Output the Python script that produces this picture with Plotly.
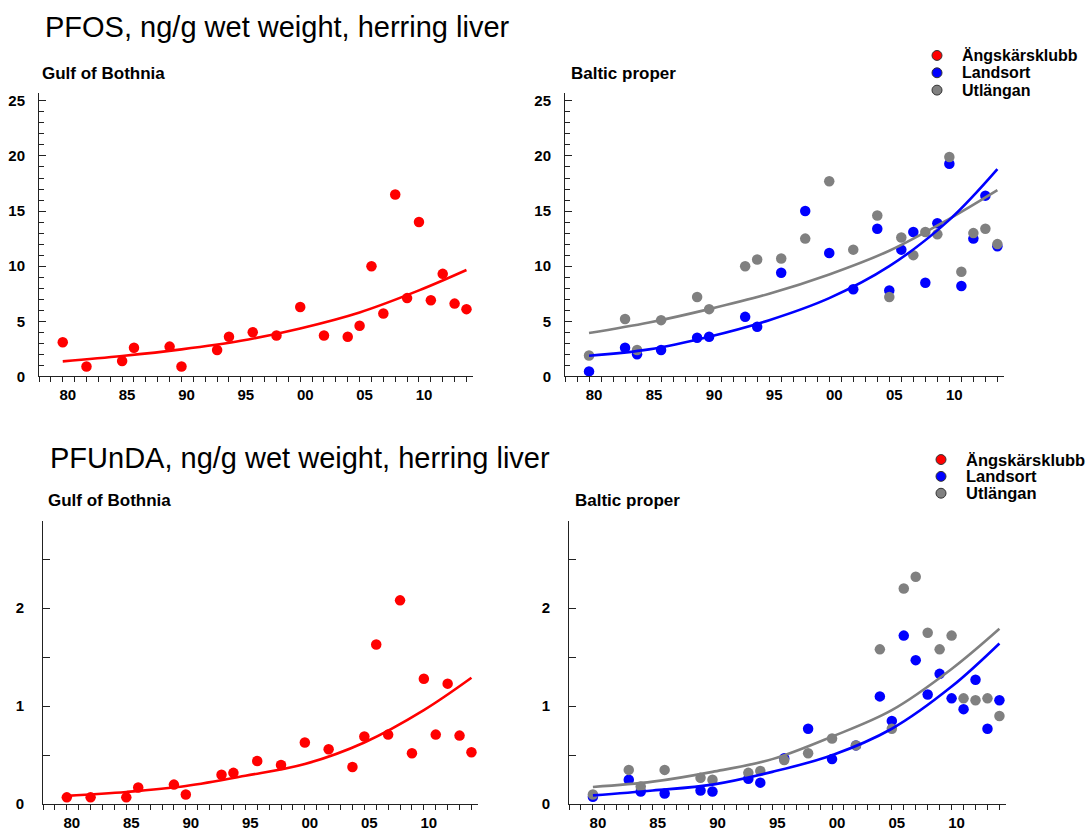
import plotly.graph_objects as go

# ---------------- data ----------------
years_gob = [1980, 1982, 1985, 1986, 1989, 1990, 1993, 1994, 1996, 1998, 2000, 2002,
             2004, 2005, 2006, 2007, 2008, 2009, 2010, 2011, 2012, 2013, 2014]
years_bp = [1980, 1983, 1984, 1986, 1989, 1990, 1993, 1994, 1996, 1998, 2000, 2002,
            2004, 2005, 2006, 2007, 2008, 2009, 2010, 2011, 2012, 2013, 2014]

pfos_angskar = [3.1, 0.9, 1.4, 2.6, 2.7, 0.9, 2.4, 3.6, 4.0, 3.7, 6.3, 3.7,
                3.6, 4.6, 10.0, 5.7, 16.5, 7.1, 14.0, 6.9, 9.3, 6.6, 6.1]
pfos_landsort = [0.45, 2.6, 2.0, 2.4, 3.5, 3.6, 5.4, 4.5, 9.4, 15.0, 11.2, 7.9,
                 13.4, 7.8, 11.5, 13.1, 8.5, 13.9, 19.3, 8.2, 12.5, 16.4, 11.8]
pfos_utlangan = [1.9, 5.2, 2.4, 5.1, 7.2, 6.1, 10.0, 10.6, 10.7, 12.5, 17.7, 11.5,
                 14.6, 7.2, 12.6, 11.0, 13.1, 12.9, 19.9, 9.5, 13.0, 13.4, 12.0]

pfunda_angskar = [0.07, 0.07, 0.07, 0.17, 0.20, 0.10, 0.30, 0.32, 0.44, 0.40, 0.63, 0.56,
                  0.38, 0.69, 1.63, 0.71, 2.08, 0.52, 1.28, 0.71, 1.23, 0.70, 0.53]
pfunda_landsort = [0.075, 0.25, 0.13, 0.11, 0.14, 0.13, 0.26, 0.22, 0.47, 0.77, 0.46, 0.60,
                   1.10, 0.85, 1.72, 1.47, 1.12, 1.33, 1.08, 0.97, 1.27, 0.77, 1.06]
pfunda_utlangan = [0.10, 0.35, 0.18, 0.35, 0.27, 0.25, 0.32, 0.34, 0.45, 0.52, 0.67, 0.60,
                   1.58, 0.77, 2.20, 2.32, 1.75, 1.58, 1.72, 1.08, 1.06, 1.08, 0.90]

# trend lines (at 5-year steps)
trend_years = [1980, 1985, 1990, 1995, 2000, 2005, 2010, 2014]
pfos_angskar_trend = [1.36, 1.85, 2.45, 3.23, 4.35, 5.8, 7.8, 9.65]
pfos_landsort_trend = [1.87, 2.45, 3.6, 5.1, 7.1, 10.0, 14.2, 18.8]
pfos_utlangan_trend = [3.93, 4.88, 6.1, 7.5, 9.25, 11.4, 14.3, 16.9]
pfunda_angskar_trend = [0.085, 0.125, 0.186, 0.29, 0.41, 0.63, 0.96, 1.29]
pfunda_landsort_trend = [0.09, 0.14, 0.2, 0.33, 0.5, 0.77, 1.2, 1.64]
pfunda_utlangan_trend = [0.176, 0.23, 0.33, 0.46, 0.69, 0.96, 1.38, 1.79]

stations = ["Ängskärsklubb", "Landsort", "Utlängan"]
x_label_alias = {"1980": "80", "1985": "85", "1990": "90", "1995": "95",
                 "2000": "00", "2005": "05", "2010": "10"}
titles = ["PFOS, ng/g wet weight, herring liver", "PFUnDA, ng/g wet weight, herring liver"]
subtitles = ["Gulf of Bothnia", "Baltic proper"]

# ---------------- style ----------------
W, H = 1090, 834
FONT = "Liberation Sans, Arial, sans-serif"
RED, BLUE, GREY = "#ff0000", "#0000ff", "#808080"
colors = [RED, BLUE, GREY]
AX = "#222222"


def px_x(p):
    return p / W


def px_y(p):
    return 1 - p / H


fig = go.Figure()


def pts(x, y, color, xa, ya):
    fig.add_trace(go.Scatter(x=x, y=y, mode="markers", xaxis=xa, yaxis=ya,
                             marker=dict(color=color, size=10.5, line=dict(width=0)),
                             showlegend=False, hoverinfo="x+y"))


def trend(x, y, color, xa, ya):
    fig.add_trace(go.Scatter(x=x, y=y, mode="lines", xaxis=xa, yaxis=ya,
                             line=dict(color=color, width=2.6, shape="spline", smoothing=1.0),
                             showlegend=False, hoverinfo="skip"))


# top-left: PFOS Gulf of Bothnia
pts(years_gob, pfos_angskar, RED, "x", "y")
trend(trend_years, pfos_angskar_trend, RED, "x", "y")
# top-right: PFOS Baltic proper
pts(years_bp, pfos_landsort, BLUE, "x2", "y2")
pts(years_bp, pfos_utlangan, GREY, "x2", "y2")
trend(trend_years, pfos_utlangan_trend, GREY, "x2", "y2")
trend(trend_years, pfos_landsort_trend, BLUE, "x2", "y2")
# bottom-left: PFUnDA Gulf of Bothnia
pts(years_gob, pfunda_angskar, RED, "x3", "y3")
trend(trend_years, pfunda_angskar_trend, RED, "x3", "y3")
# bottom-right: PFUnDA Baltic proper
pts(years_bp, pfunda_landsort, BLUE, "x4", "y4")
pts(years_bp, pfunda_utlangan, GREY, "x4", "y4")
trend(trend_years, pfunda_utlangan_trend, GREY, "x4", "y4")
trend(trend_years, pfunda_landsort_trend, BLUE, "x4", "y4")

tickfont = dict(family=FONT, size=15, color="black", weight="bold")


def xaxis(left, right, anchor):
    return dict(domain=[px_x(left), px_x(right)], anchor=anchor,
                range=[1978, 2014.55], tickmode="linear", tick0=1980, dtick=5,
                labelalias=x_label_alias, ticks="outside", ticklen=5, tickwidth=1,
                tickcolor=AX, showline=True, linecolor=AX, linewidth=1,
                showgrid=False, zeroline=False, tickfont=tickfont, ticklabelshift=5,
                minor=dict(tickmode="linear", tick0=1978, dtick=1, ticks="outside",
                           ticklen=5, tickwidth=1, tickcolor=AX, showgrid=False))


def yaxis_pfos(top, bottom, anchor, standoff):
    return dict(domain=[px_y(bottom), px_y(top)], anchor=anchor,
                range=[0, 25.75], tickmode="linear", tick0=0, dtick=5,
                ticks="inside", ticklen=7, tickwidth=1, tickcolor=AX,
                showline=True, linecolor=AX, linewidth=1, showgrid=False,
                zeroline=False, tickfont=tickfont, ticklabelstandoff=standoff,
                minor=dict(tickmode="linear", tick0=0, dtick=1, ticks="inside",
                           ticklen=5, tickwidth=1, tickcolor=AX, showgrid=False))


def yaxis_pfunda(top, bottom, anchor, standoff):
    return dict(domain=[px_y(bottom), px_y(top)], anchor=anchor,
                range=[0, 2.89], tickmode="linear", tick0=0, dtick=0.5,
                labelalias={"0.5": " ", "1.5": " ", "2.5": " "},
                ticks="inside", ticklen=7, tickwidth=1, tickcolor=AX,
                showline=True, linecolor=AX, linewidth=1, showgrid=False,
                zeroline=False, tickfont=tickfont, ticklabelstandoff=standoff)


TOP_T, TOP_B = 93.5, 380
BOT_T, BOT_B = 526, 812

annotations = []
shapes = []


def text(x, y, s, size, bold):
    annotations.append(dict(xref="paper", yref="paper", x=px_x(x), y=px_y(y),
                            xanchor="left", yanchor="middle", showarrow=False, text=s,
                            font=dict(family=FONT, size=size, color="black",
                                      weight="bold" if bold else "normal")))


text(43, 27, titles[0], 29, False)
text(48, 462, titles[1], 29, False)
text(40, 74, subtitles[0], 17, True)
text(569, 74, subtitles[1], 17, True)
text(46, 505, subtitles[0], 17, True)
text(573, 505, subtitles[1], 17, True)


def legend(mx, tx, rows, size):
    r = 5
    for name, col, yy in zip(stations, colors, rows):
        shapes.append(dict(type="circle", xref="paper", yref="paper",
                           x0=px_x(mx - r), x1=px_x(mx + r),
                           y0=px_y(yy + r), y1=px_y(yy - r),
                           fillcolor=col, line=dict(color="#333333", width=1)))
        text(tx, yy, name, size, True)


legend(937, 960, [56, 73.5, 91], 16)
legend(941, 964, [464, 481, 498], 16.5)

fig.update_layout(
    width=W, height=H, autosize=False,
    margin=dict(l=0, r=0, t=0, b=0),
    paper_bgcolor="white", plot_bgcolor="white",
    showlegend=False,
    xaxis=xaxis(39, 473, "y"),
    yaxis=yaxis_pfos(TOP_T, TOP_B, "x", 10),
    xaxis2=xaxis(565, 1004, "y2"),
    yaxis2=yaxis_pfos(TOP_T, TOP_B, "x2", 10),
    xaxis3=xaxis(43, 478, "y3"),
    yaxis3=yaxis_pfunda(BOT_T, BOT_B, "x3", 15),
    xaxis4=xaxis(569, 1006, "y4"),
    yaxis4=yaxis_pfunda(BOT_T, BOT_B, "x4", 15),
    annotations=annotations,
    shapes=shapes,
)

fig.write_html("out.html")
